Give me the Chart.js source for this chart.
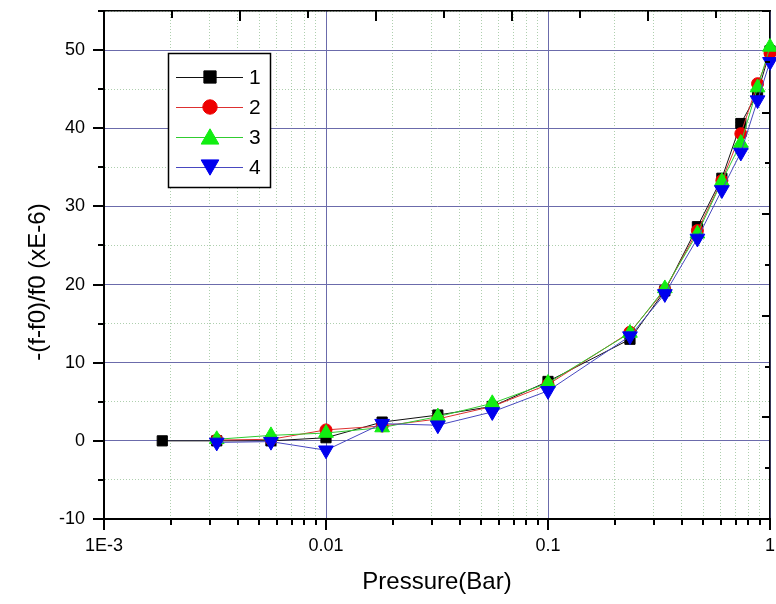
<!DOCTYPE html>
<html>
<head>
<meta charset="utf-8">
<script src="https://cdn.jsdelivr.net/npm/chart.js@4.4.1/dist/chart.umd.min.js"></script>
<style>
  html, body { margin: 0; padding: 0; background: #fff; }
  #wrap { width: 776px; height: 604px; }
</style>
</head>
<body>
<div id="wrap"><canvas id="chart" width="776" height="604"></canvas></div>
<script>
const pressure1 = [0.00183, 0.00322, 0.00565, 0.01, 0.0179, 0.0319, 0.0561, 0.1, 0.234, 0.336, 0.471, 0.607, 0.739, 0.879, 1.0];
const pressure  = [0.00322, 0.00565, 0.01, 0.0179, 0.0319, 0.0561, 0.1, 0.234, 0.336, 0.471, 0.607, 0.739, 0.879, 1.0];

// -(f-f0)/f0 in units of 1E-6
const series1 = [0, 0, 0, 0.4, 2.4, 3.3, 4.4, 7.6, 13.0, 19.2, 27.4, 33.6, 40.6, 44.5, 49.9];
const series2 = [0.1, 0.2, 1.4, 1.9, 2.8, 4.4, 7.2, 13.9, 19.3, 26.9, 33.3, 39.3, 45.7, 49.6];
const series3 = [0.2, 0.7, 1.0, 1.7, 3.1, 4.8, 7.4, 13.8, 19.5, 26.5, 33.2, 38.1, 45.2, 50.4];
const series4 = [-0.2, -0.1, -1.2, 2.2, 2.0, 3.7, 6.4, 13.4, 18.8, 25.9, 32.1, 36.9, 43.6, 48.5];

const seriesLabels = ['1', '2', '3', '4'];
const xTickValues = [0.001, 0.01, 0.1, 1];
const xTickLabels = ['1E-3', '0.01', '0.1', '1'];
const xTitle = 'Pressure(Bar)';
const yTitle = '-(f-f0)/f0 (xE-6)';

const FONT = '"Liberation Sans", Arial, sans-serif';
const MAJOR_GRID = '#6b6bab';
const MINOR_GRID = 'rgba(120, 175, 120, 0.6)';

function isDecade(v) {
  const l = Math.log10(v);
  return Math.abs(l - Math.round(l)) < 1e-6;
}

function toPoints(xs, ys) {
  return xs.map((x, i) => ({ x: x, y: ys[i] }));
}

// fixed axis box sizes, no label overflow padding
function fixSize(prop, size) {
  return function(scale) {
    scale[prop] = size;
    scale.paddingTop = scale.paddingBottom = scale.paddingLeft = scale.paddingRight = 0;
  };
}

// inward / outward tick marks of every axis, placed by the scales
const axisMarks = {
  id: 'axisMarks',
  afterDraw(chart) {
    const { ctx, chartArea: a } = chart;
    const { x, y, x2, y2 } = chart.scales;
    ctx.save();
    ctx.strokeStyle = '#000';
    ctx.lineWidth = 2;
    ctx.beginPath();
    x.ticks.forEach(t => {
      const px = Math.round(x.getPixelForValue(t.value));
      ctx.moveTo(px, a.bottom);
      ctx.lineTo(px, a.bottom + (isDecade(t.value) ? 11 : 6));
    });
    y.ticks.forEach(t => {
      const py = Math.round(y.getPixelForValue(t.value));
      ctx.moveTo(a.left, py);
      ctx.lineTo(a.left - (t.value % 10 === 0 ? 11 : 6), py);
    });
    x2.ticks.forEach(t => {
      if (!Number.isInteger(t.value) || t.value === 0) return;
      const px = Math.round(x2.getPixelForValue(t.value));
      ctx.moveTo(px, a.top);
      ctx.lineTo(px, a.top + (t.value % 2 === 0 ? 10 : 7));
    });
    y2.ticks.forEach(t => {
      if (!Number.isInteger(t.value)) return;
      const py = Math.round(y2.getPixelForValue(t.value));
      ctx.moveTo(a.right, py);
      ctx.lineTo(a.right - (t.value % 2 === 0 ? 8 : 5), py);
    });
    ctx.stroke();

    // y title, rotated
    ctx.fillStyle = '#000';
    ctx.font = '24px ' + FONT;
    ctx.textAlign = 'center';
    ctx.textBaseline = 'middle';
    ctx.translate(38, 282);
    ctx.rotate(-Math.PI / 2);
    ctx.fillText(yTitle, 0, 0);
    ctx.restore();
  }
};

// boxed legend with line + marker, like the original
const boxLegend = {
  id: 'boxLegend',
  afterDraw(chart) {
    const ctx = chart.ctx;
    ctx.save();
    ctx.fillStyle = '#fff';
    ctx.fillRect(168, 53, 103, 135);
    ctx.strokeStyle = '#000';
    ctx.lineWidth = 1.5;
    ctx.strokeRect(168.5, 53.5, 102, 134);
    chart.data.datasets.forEach((ds, i) => {
      const cy = 77 + i * 30;
      ctx.strokeStyle = ds.borderColor;
      ctx.lineWidth = 1;
      ctx.beginPath();
      ctx.moveTo(176, cy + 0.5);
      ctx.lineTo(243, cy + 0.5);
      ctx.stroke();
      ctx.fillStyle = ds.pointBackgroundColor;
      ctx.strokeStyle = ds.pointBorderColor;
      Chart.helpers.drawPoint(ctx, {
        pointStyle: ds.pointStyle,
        rotation: ds.pointRotation || 0,
        radius: ds.pointRadius * 1.2,
        borderWidth: 1
      }, 210, ds.pointStyle === 'triangle' ? cy + (ds.pointRotation ? -2 : 2) : cy);
      ctx.fillStyle = '#000';
      ctx.font = '21px ' + FONT;
      ctx.textAlign = 'left';
      ctx.textBaseline = 'middle';
      ctx.fillText(ds.label, 249, cy + 1);
    });
    ctx.restore();
  }
};

const styles = [
  { line: '#111111', point: '#000000', shape: 'rect', radius: 7.2, rot: 0 },
  { line: '#dd3030', point: '#ee0000', shape: 'circle', radius: 6, rot: 0 },
  { line: '#30cc30', point: '#11ee11', shape: 'triangle', radius: 8.5, rot: 0 },
  { line: '#4848c0', point: '#0000ee', shape: 'triangle', radius: 8.5, rot: 180 }
];
const allData = [
  toPoints(pressure1, series1),
  toPoints(pressure, series2),
  toPoints(pressure, series3),
  toPoints(pressure, series4)
];

const datasets = allData.map((d, i) => ({
  label: seriesLabels[i],
  data: d,
  borderColor: styles[i].line,
  borderWidth: 1,
  pointStyle: styles[i].shape,
  pointRotation: styles[i].rot,
  pointRadius: styles[i].radius,
  pointBackgroundColor: styles[i].point,
  pointBorderColor: styles[i].point,
  pointBorderWidth: 1,
  tension: 0,
  clip: false,
  order: 4 - i
}));

new Chart(document.getElementById('chart'), {
  type: 'line',
  data: { datasets: datasets },
  options: {
    responsive: false,
    animation: false,
    layout: { padding: 0, autoPadding: false },
    plugins: { legend: { display: false }, tooltip: { enabled: false } },
    scales: {
      x: {
        type: 'logarithmic',
        position: 'bottom',
        min: 0.001,
        max: 1,
        afterBuildTicks(scale) {
          scale.ticks = scale.ticks.filter(t => {
            const m = t.value / Math.pow(10, Math.floor(Math.log10(t.value) + 1e-9));
            return Math.abs(m - Math.round(m)) < 1e-6;
          });
        },
        afterFit: fixSize('height', 85),
        ticks: {
          autoSkip: false,
          maxRotation: 0,
          padding: 16,
          color: '#000',
          font: { family: FONT, size: 18 },
          callback(v) {
            const idx = xTickValues.findIndex(t => Math.abs(t - v) / t < 1e-6);
            return idx >= 0 ? xTickLabels[idx] : '';
          }
        },
        grid: {
          drawTicks: false,
          color: c => (c.tick && isDecade(c.tick.value)) ? MAJOR_GRID : MINOR_GRID,
          lineWidth: 1
        },
        border: {
          color: '#000',
          width: 2,
          dash: c => (c.tick && !isDecade(c.tick.value)) ? [1, 2] : []
        },
        title: {
          display: true,
          text: xTitle,
          color: '#000',
          font: { family: FONT, size: 24 },
          padding: { top: 0, bottom: 7 }
        }
      },
      y: {
        type: 'linear',
        position: 'left',
        min: -10,
        max: 55,
        afterFit: fixSize('width', 104),
        ticks: {
          stepSize: 5,
          padding: 19,
          color: '#000',
          font: { family: FONT, size: 18 },
          callback: v => (v % 10 === 0 ? String(v) : '')
        },
        grid: {
          drawTicks: false,
          color: c => (c.tick && c.tick.value % 10 === 0) ? MAJOR_GRID : MINOR_GRID,
          lineWidth: 1
        },
        border: {
          color: '#000',
          width: 2,
          dash: c => (c.tick && c.tick.value % 10 !== 0) ? [1, 2] : []
        }
      },
      x2: {
        type: 'linear',
        position: 'top',
        min: 0,
        max: 9.79,
        afterFit: fixSize('height', 11),
        ticks: { display: false, stepSize: 1 },
        grid: { drawOnChartArea: false, drawTicks: false },
        border: { color: '#000', width: 1.5 }
      },
      y2: {
        type: 'linear',
        position: 'right',
        min: 0,
        max: 10,
        afterFit: fixSize('width', 6),
        ticks: { display: false, stepSize: 1 },
        grid: { drawOnChartArea: false, drawTicks: false },
        border: { color: '#000', width: 1.5 }
      }
    }
  },
  plugins: [axisMarks, boxLegend]
});
</script>
</body>
</html>
